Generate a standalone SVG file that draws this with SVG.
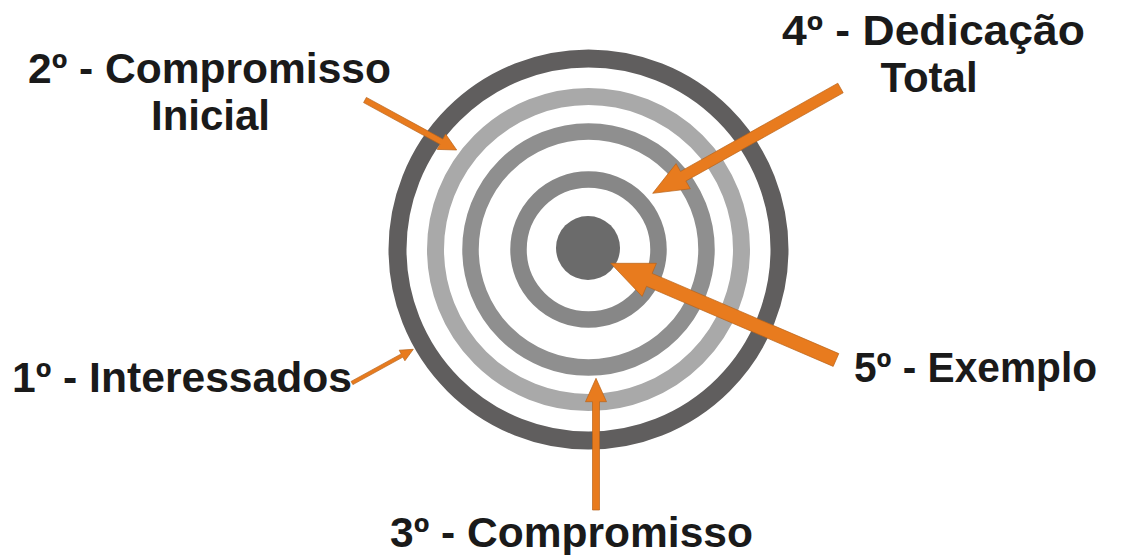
<svg xmlns="http://www.w3.org/2000/svg" width="1121" height="555" viewBox="0 0 1121 555">
  <style>
    .lbl { font-family: "Liberation Sans", Arial, sans-serif; font-weight: bold; font-size: 42px; fill: #1a1a1a; }
    .ring { fill: none; }
    .arrow { fill: #e87b1e; stroke: #b8631a; stroke-width: 0.7; stroke-linejoin: miter; }
  </style>
  <rect width="1121" height="555" fill="#ffffff"/>
  <g id="target">
    <circle class="ring" cx="588.5" cy="249.5" r="191" stroke="#605e5e" stroke-width="18"/>
    <circle class="ring" cx="588.5" cy="249.5" r="153" stroke="#a9a9a9" stroke-width="17"/>
    <circle class="ring" cx="588.5" cy="249.5" r="118" stroke="#8f8f8f" stroke-width="16.5"/>
    <circle class="ring" cx="588.5" cy="249.5" r="70" stroke="#878787" stroke-width="16.5"/>
    <circle cx="588" cy="248" r="32" fill="#6b6b6b"/>
  </g>
  <g id="label-1">
    <text class="lbl" x="12" y="392" textLength="340" lengthAdjust="spacingAndGlyphs">1º - Interessados</text>
  </g>
  <g id="label-2">
    <text class="lbl" x="28" y="83" textLength="363" lengthAdjust="spacingAndGlyphs">2º - Compromisso</text>
    <text class="lbl" x="210.5" y="130" text-anchor="middle">Inicial</text>
  </g>
  <g id="label-3">
    <text class="lbl" x="390" y="547" textLength="363" lengthAdjust="spacingAndGlyphs">3º - Compromisso</text>
  </g>
  <g id="label-4">
    <text class="lbl" x="782" y="45" textLength="303" lengthAdjust="spacingAndGlyphs">4º - Dedicação</text>
    <text class="lbl" x="929" y="92" text-anchor="middle">Total</text>
  </g>
  <g id="label-5">
    <text class="lbl" x="854" y="382" textLength="243" lengthAdjust="spacingAndGlyphs">5º - Exemplo</text>
  </g>
  <g id="connectors">
    <polygon class="arrow" points="352.9,384.6 402.9,357.1 404.9,360.8 413.3,349.3 399.2,350.2 401.2,353.9 351.1,381.4"/>
    <polygon class="arrow" points="363.6,102.6 440.0,144.3 437.2,149.4 456.7,150 445.6,134.0 442.8,139.1 366.4,97.4"/>
    <polygon class="arrow" points="599.5,510 599.5,401.7 606.5,401.7 596,378.3 585.5,401.7 592.5,401.7 592.5,510"/>
    <polygon class="arrow" points="837.8,83.2 680.5,171.4 676.1,163.6 652.7,193.3 690.3,188.8 685.9,181.0 843.2,92.8"/>
    <polygon class="arrow" points="838.8,353.6 652.1,273.4 656.4,263.3 610.7,263.3 642.2,296.4 646.5,286.3 833.2,366.4"/>
  </g>
</svg>
